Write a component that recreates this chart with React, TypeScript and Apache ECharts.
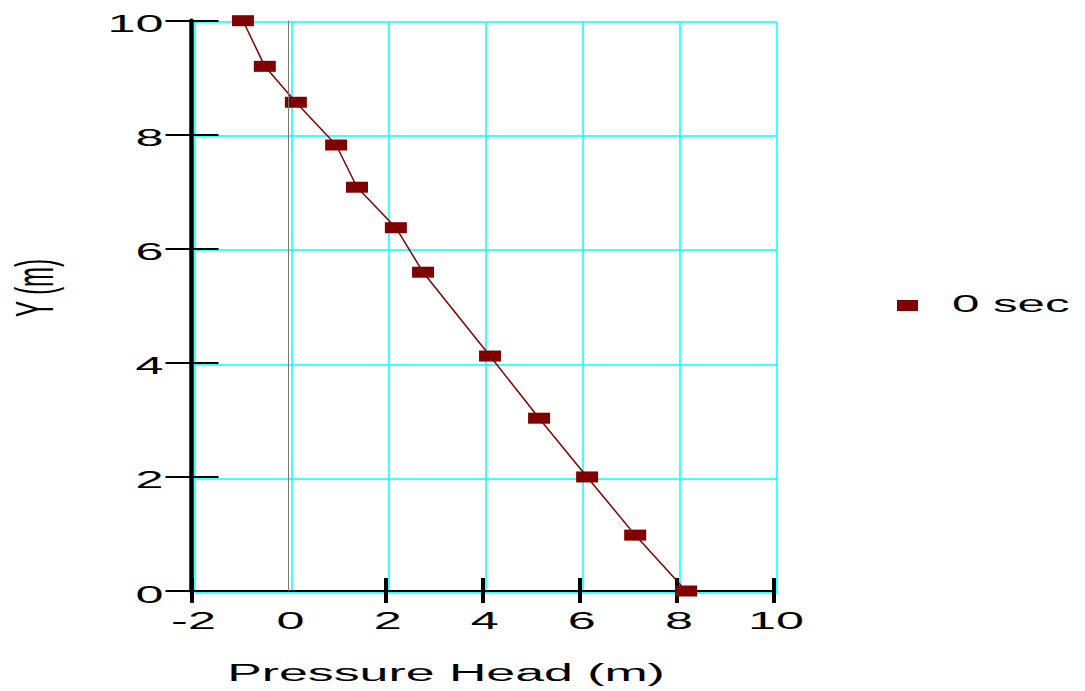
import React, { useEffect, useRef } from "react";
import * as echarts from "echarts";

const pressureHead = [-0.94, -0.49, 0.15, 0.98, 1.41, 2.21, 2.77, 4.15, 5.16, 6.15, 7.14, 8.19];
const depthY = [10, 9.2, 8.57, 7.82, 7.08, 6.37, 5.59, 4.12, 3.03, 2.0, 0.98, 0];
const seriesName = "0 sec";
const xTickValues = [-2, 0, 2, 4, 6, 8, 10];
const xTickLabels = ["-2", "0", "2", "4", "6", "8", "10"];
const xTickMarks = [-2, 2, 4, 6, 8, 10];
const yTickValues = [0, 2, 4, 6, 8, 10];
const yTickLabels = ["0", "2", "4", "6", "8", "10"];
const xTitle = "Pressure Head (m)";
const yTitle = "Y (m)";

const FONT = "'Liberation Sans', Arial, sans-serif";
const SX = 2.1;

export default function App() {
  const ref = useRef<HTMLDivElement>(null);
  useEffect(() => {
    if (!ref.current) return;
    const chart = echarts.init(ref.current, null, { renderer: "svg" });
    const black = "#000";
    const cyan = "#00ffff";
    const option: any = {
      animation: false,
      backgroundColor: "#fff",
      grid: [
        { left: 191.5, right: 311, top: 20.7, bottom: 100 },
        { left: 195, right: 308, top: 22, bottom: 98.5 },
      ],
      xAxis: [
        {
          type: "value", gridIndex: 0, min: -2, max: 10, interval: 2, position: "bottom", z: 3,
          axisLine: { show: true, onZero: false, lineStyle: { color: black, width: 2 } },
          axisTick: { show: true, customValues: xTickMarks, length: 12, lineStyle: { color: black, width: 4 } },
          axisLabel: { show: false },
          splitLine: { show: false },
        },
        {
          type: "value", gridIndex: 0, min: -2, max: 10, interval: 2, position: "bottom", z: 3,
          axisLine: { show: false, onZero: false },
          axisTick: { show: true, inside: true, customValues: xTickMarks, length: 13, lineStyle: { color: black, width: 4 } },
          axisLabel: { show: false },
          splitLine: { show: false },
        },
        {
          type: "value", gridIndex: 1, min: -2, max: 10, interval: 2, z: 0,
          axisLine: { show: false }, axisTick: { show: false }, axisLabel: { show: false },
          splitLine: { show: true, lineStyle: { color: cyan, width: 1.5 } },
        },
      ],
      yAxis: [
        {
          type: "value", gridIndex: 0, min: 0, max: 10, interval: 2, position: "left", z: 3,
          axisLine: { show: true, onZero: false, lineStyle: { color: black, width: 4.5 } },
          axisTick: { show: true, length: 26, lineStyle: { color: black, width: 2 } },
          axisLabel: { show: false },
          splitLine: { show: false },
        },
        {
          type: "value", gridIndex: 0, min: 0, max: 10, interval: 2, position: "left", z: 3,
          axisLine: { show: false, onZero: false },
          axisTick: { show: true, inside: true, length: 27, lineStyle: { color: black, width: 2 } },
          axisLabel: { show: false },
          splitLine: { show: false },
        },
        {
          type: "value", gridIndex: 1, min: 0, max: 10, interval: 2, z: 0,
          axisLine: { show: false }, axisTick: { show: false }, axisLabel: { show: false },
          splitLine: { show: true, lineStyle: { color: cyan, width: 1.5 } },
        },
      ],
      legend: {
        show: true, left: 897, top: 300, orient: "vertical", padding: 0,
        itemWidth: 21, itemHeight: 11, icon: "rect",
        formatter: () => "",
        data: [seriesName],
      },
      series: [
        {
          name: seriesName, type: "line", xAxisIndex: 0, yAxisIndex: 0, z: 4,
          data: pressureHead.map((x, i) => [x, depthY[i]]),
          symbol: "rect", symbolSize: [22, 11], showSymbol: true, clip: false,
          itemStyle: { color: "#800000" },
          lineStyle: { color: "#800000", width: 1.5 },
          markLine: {
            silent: true, symbol: "none", label: { show: false },
            lineStyle: { color: "#777", width: 1, type: "solid" },
            data: [{ xAxis: 0 }],
          },
        },
      ],
    };
    chart.setOption(option);

    const graphics: any[] = [];
    const txt = (text: string, x: number, y: number, align: string, extra: any = {}) => ({
      type: "text", x, y, scaleX: SX, silent: true,
      style: {
        text, fill: black, fontSize: 24, fontFamily: FONT,
        align, verticalAlign: "middle", textAlign: align, textVerticalAlign: "middle",
      },
      ...extra,
    });
    const yBase = chart.convertToPixel({ yAxisIndex: 0 }, 0) as number;
    xTickValues.forEach((v, i) => {
      const px = chart.convertToPixel({ xAxisIndex: 0 }, v) as number;
      graphics.push(txt(xTickLabels[i], px + 2, yBase + 29, "center"));
    });
    const xLeft = chart.convertToPixel({ xAxisIndex: 0 }, -2) as number;
    yTickValues.forEach((v, i) => {
      const py = chart.convertToPixel({ yAxisIndex: 0 }, v) as number;
      graphics.push(txt(yTickLabels[i], xLeft - 28, py + 3, "right"));
    });
    graphics.push(txt(xTitle, 446, 673, "center", { scaleX: 2.16 }));
    graphics.push({
      type: "text", x: 35, y: 288, rotation: Math.PI / 2, scaleY: 2.2, silent: true,
      style: {
        text: yTitle, fill: black, fontSize: 24, fontFamily: FONT,
        align: "center", verticalAlign: "middle", textAlign: "center", textVerticalAlign: "middle",
      },
    });
    graphics.push(txt(seriesName, 952, 304, "left", { scaleX: 2.05 }));
    chart.setOption({ graphic: graphics });

    return () => chart.dispose();
  }, []);
  return (
    <div
      ref={ref}
      style={{ position: "fixed", left: 0, top: 0, width: 1085, height: 691, background: "#fff" }}
    />
  );
}
